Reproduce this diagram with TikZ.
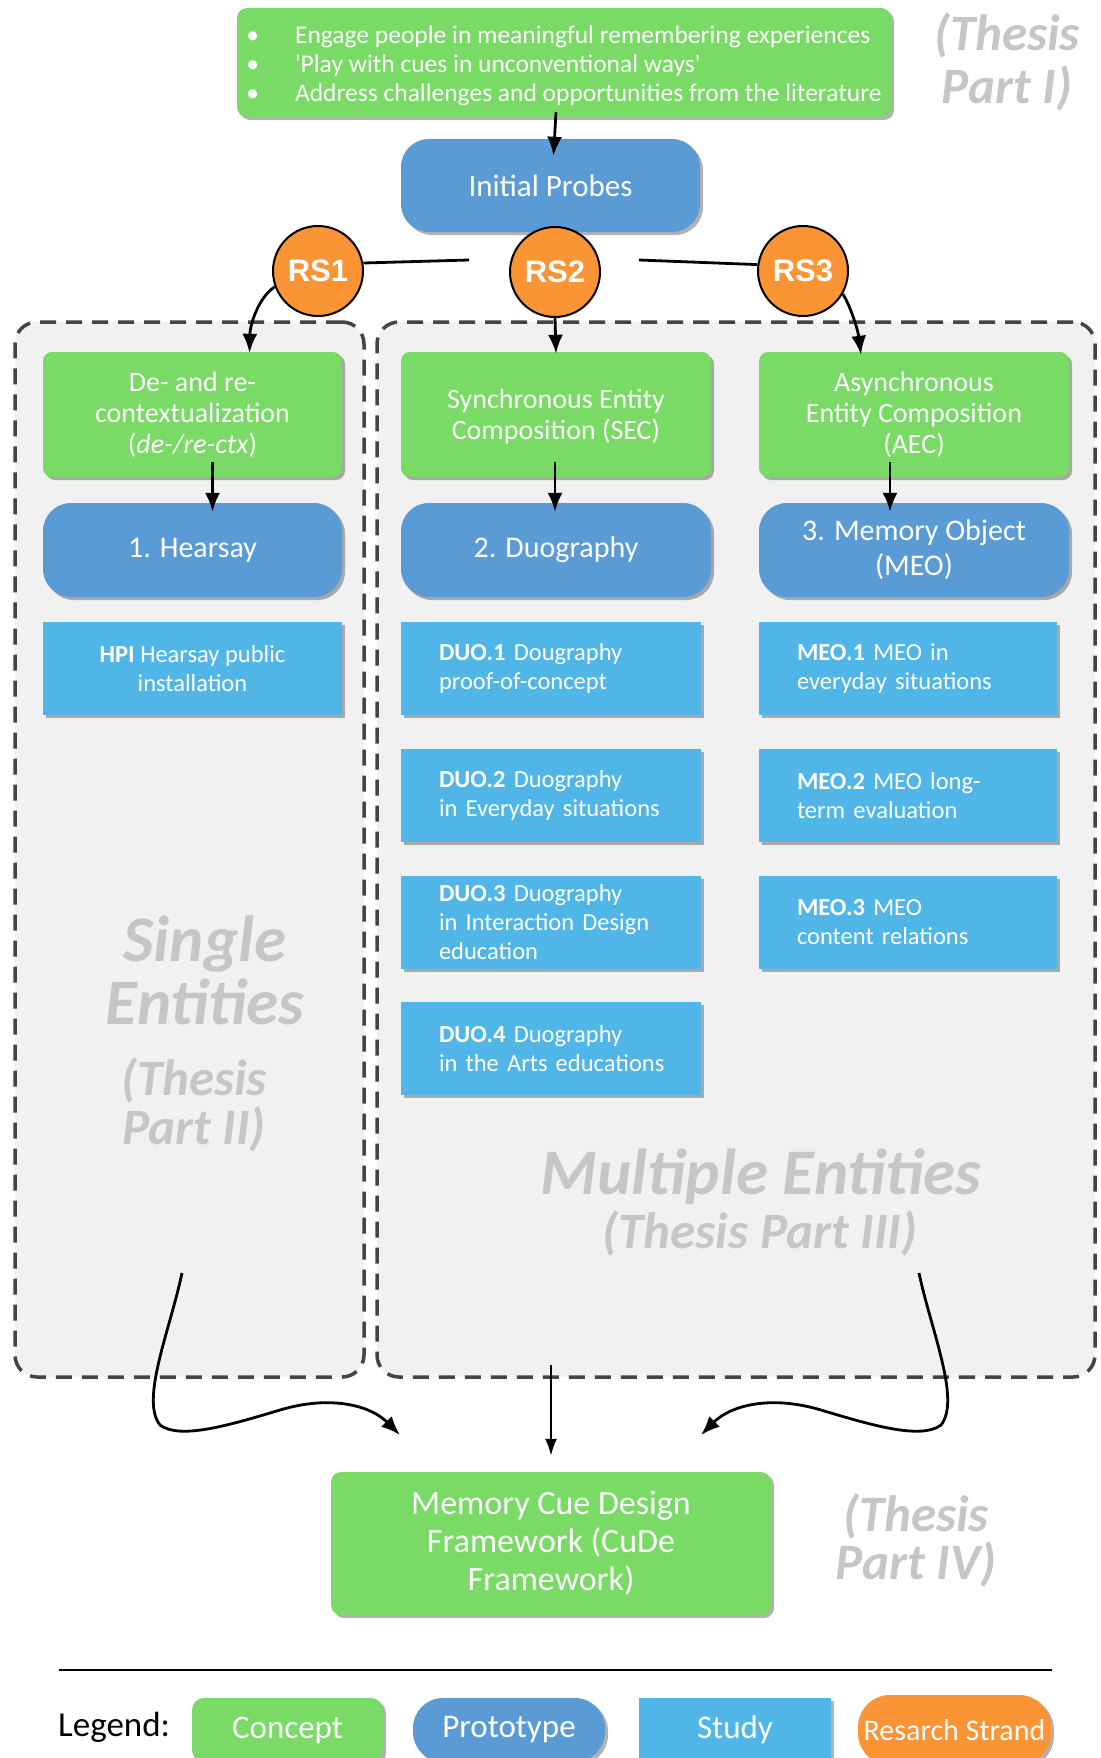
\documentclass[tikz,border=0pt]{standalone}
\usepackage{fontspec}
\setmainfont{Carlito}
\newfontfamily\rsfont{Liberation Sans}
\usetikzlibrary{arrows.meta,shadows,calc}
\definecolor{cgreen}{RGB}{122,218,102}
\definecolor{cproto}{RGB}{91,155,213}
\definecolor{cstudy}{RGB}{80,182,232}
\definecolor{corange}{RGB}{250,148,52}
\definecolor{cpanel}{RGB}{241,241,241}
\definecolor{cghost}{RGB}{198,198,198}
\definecolor{cdash}{RGB}{68,68,68}
\hyphenpenalty=10000
\exhyphenpenalty=10000
\begin{document}
\begin{tikzpicture}[x=1pt,y=-1pt,
  shadowed/.style={drop shadow={shadow xshift=3pt,shadow yshift=-3pt,opacity=0.3,fill=black}},
  concept/.style={shadowed, fill=cgreen, rounded corners=9pt, text=white, align=center, inner sep=0pt, font=\fontsize{28}{31}\selectfont},
  proto/.style={shadowed, fill=cproto, rounded corners=28pt, text=white, align=center, inner sep=0pt, font=\fontsize{30}{35}\selectfont},
  study/.style={shadowed, fill=cstudy, text=white, inner sep=0pt, font=\fontsize{24.5}{29}\selectfont},
  rs/.style={circle, fill=corange, draw=black, line width=2pt, minimum size=90pt, inner sep=0pt, text=white, font=\rsfont\bfseries\fontsize{31}{31}\selectfont},
  panel/.style={draw=cdash, fill=cpanel, line width=3.5pt, dash pattern=on 16pt off 10pt, rounded corners=22pt, inner sep=0pt},
  ghost/.style={text=cghost, font=\bfseries\itshape\fontsize{51}{53}\selectfont, align=center, inner sep=0pt},
  arr/.style={-{Latex[length=19pt,width=15pt]}, line width=2.8pt},
  plainline/.style={line width=2.8pt}
]
\useasboundingbox (0,0) rectangle (1100,1758);
\fill[white] (0,0) rectangle (1100,1758);

% panels
\node[panel, minimum width=349pt, minimum height=1055pt] (lpanel) at (189.5,849.5) {};
\node[panel, minimum width=718pt, minimum height=1055pt] (rpanel) at (736,849.5) {};

% ghost labels
\node[ghost] (thesis1) at (1007,62) {(Thesis\\Part I)};
\node[ghost, font=\bfseries\itshape\fontsize{65}{63}\selectfont] (single) at (205,970) {Single\\Entities};
\node[ghost, font=\bfseries\itshape\fontsize{51}{49}\selectfont] (thesis2) at (194,1105) {(Thesis\\Part II)};
\node[ghost, font=\bfseries\itshape\fontsize{65}{63}\selectfont] (multiple) at (761,1177) {Multiple Entities};
\node[ghost] (thesis3) at (760,1233) {(Thesis Part III)};
\node[ghost, font=\bfseries\itshape\fontsize{51}{48}\selectfont] (thesis4) at (916,1540) {(Thesis\\Part IV)};

% top
\node[concept, rounded corners=10pt, minimum width=654pt, minimum height=109pt, font=\fontsize{25.5}{29}\selectfont, align=left] (top) at (564,62.5)
 {\raisebox{-4pt}[\height][\depth]{\begin{tabular}{@{}l@{\hspace{36pt}}l@{}}
  \textbullet & Engage people in meaningful remembering experiences\\
  \textbullet & \textquotesingle Play with cues in unconventional ways\textquotesingle\\
  \textbullet & Address challenges and opportunities from the literature
  \end{tabular}}};

\node[proto, minimum width=299pt, minimum height=93pt, font=\fontsize{31}{35}\selectfont] (probes) at (550.5,185.5) {Initial Probes};

\node[rs] (rs1) at (318,271) {RS1};
\node[rs] (rs2) at (555,272) {RS2};
\node[rs] (rs3) at (803,271) {RS3};

% concepts
\node[concept, minimum width=299pt, minimum height=125pt] (de) at (192.5,414.5) {De- and re-\\contextualization\\(\textit{de-/re-ctx})};
\node[concept, minimum width=310pt, minimum height=125pt] (sec) at (556,414.5) {\raisebox{-3pt}[\height][\depth]{\begin{tabular}{@{}c@{}}Synchronous Entity\\Composition (SEC)\end{tabular}}};
\node[concept, minimum width=310pt, minimum height=125pt] (aec) at (914,414.5) {Asynchronous\\Entity Composition\\(AEC)};

% prototypes
\node[proto, minimum width=299pt, minimum height=94pt] (hearsay) at (192.5,550) {1. Hearsay};
\node[proto, minimum width=310pt, minimum height=94pt] (duo) at (556,550) {2. Duography};
\node[proto, minimum width=310pt, minimum height=94pt] (meo) at (914,550) {3. Memory Object\\(MEO)};

% studies
\node[study, minimum width=299pt, minimum height=93pt, align=center] (hpi) at (192.5,668.5) {\textbf{HPI} Hearsay public\\installation};
\node[study, minimum width=300pt, minimum height=93pt, text width=224pt, align=left] (duo1) at (551,668.5) {\textbf{DUO.1} Dougraphy\\proof-of-concept};
\node[study, minimum width=300pt, minimum height=93pt, text width=224pt, align=left] (duo2) at (551,795.5) {\textbf{DUO.2} Duography\\\mbox{in Everyday situations}};
\node[study, minimum width=300pt, minimum height=93pt, text width=224pt, align=left] (duo3) at (551,922.5) {\textbf{DUO.3} Duography\\\mbox{in Interaction Design}\\education};
\node[study, minimum width=300pt, minimum height=93pt, text width=224pt, align=left] (duo4) at (551,1048.5) {\textbf{DUO.4} Duography\\\mbox{in the Arts educations}};
\node[study, minimum width=298pt, minimum height=93pt, text width=222pt, align=left] (meo1) at (908,668.5) {\textbf{MEO.1} MEO in\\\mbox{everyday situations}};
\node[study, minimum width=298pt, minimum height=93pt, text width=222pt, align=left] (meo2) at (908,795.5) {\textbf{MEO.2} MEO long-\\term evaluation};
\node[study, minimum width=298pt, minimum height=93pt, text width=222pt, align=left] (meo3) at (908,922.5) {\textbf{MEO.3} MEO\\content relations};

% framework
\node[concept, rounded corners=10pt, minimum width=440pt, minimum height=143pt, font=\fontsize{34}{38}\selectfont] (cude) at (551,1543.5) {Memory Cue Design\\Framework (CuDe\\Framework)};

% connectors
\draw[arr] ($(top.south)+(-8,-5)$) -- ($(probes.north)+(3,17)$);
\coordinate (l1) at (469,260);
\coordinate (l2) at (639,260);
\draw[plainline] (rs1.10) -- (l1);
\draw[plainline] (l2) -- (rs3.172);
\draw[arr] (rs1.200) .. controls (258,298) and (250,325) .. ($(de.north)+(57,1)$);
\draw[arr] (rs2.south) -- ($(sec.north)+(0,2)$);
\draw[arr] (rs3.-30) .. controls (850,305) and (858,330) .. ($(aec.north)+(-53,3)$);
\draw[arr] ($(de.south)+(20,-15)$) -- ($(hearsay.north)+(20,9)$);
\draw[arr] ($(sec.south)+(-1,-15)$) -- ($(duo.north)+(-1,9)$);
\draw[arr] ($(aec.south)+(-24,-15)$) -- ($(meo.north)+(-24,9)$);

\coordinate (lstart) at (182,1273);
\coordinate (ltip) at (400,1435);
\coordinate (rstart) at (919,1273);
\coordinate (rtip) at (701,1435);
\coordinate (mstart) at (551,1365);
\draw[arr] (lstart) .. controls (170,1330) and (140,1400) .. (160,1425) .. controls (180,1440) and (230,1425) .. (280,1410) .. controls (330,1395) and (370,1405) .. (ltip);
\draw[arr] (rstart) .. controls (931,1330) and (961,1400) .. (941,1425) .. controls (921,1440) and (871,1425) .. (821,1410) .. controls (771,1395) and (731,1405) .. (rtip);
\draw[-{Latex[length=17pt,width=12pt]}, line width=2.2pt] (mstart) -- ([yshift=16pt]cude.north);

% legend
\draw[line width=2.5pt] (59,1670) -- (1052,1670);
\node[anchor=west, inner sep=0pt, font=\fontsize{35}{35}\selectfont] (legend) at (58,1727) {Legend:};
\node[concept, minimum width=191pt, minimum height=64pt, rounded corners=12pt, font=\fontsize{33}{33}\selectfont] (lgc) at (287.5,1730) {Concept};
\node[proto, minimum width=192pt, minimum height=64pt, rounded corners=30pt, font=\fontsize{33}{33}\selectfont] (lgp) at (509,1730) {Prototype};
\node[study, minimum width=192pt, minimum height=64pt, font=\fontsize{33}{33}\selectfont] (lgs) at (735,1730) {Study};
\node[shadowed, fill=corange, rounded corners=32pt, text=white, inner sep=0pt, minimum width=193pt, minimum height=70pt, font=\fontsize{30}{30}\selectfont] (lgr) at (954.5,1730) {Resarch Strand};
\end{tikzpicture}
\end{document}
